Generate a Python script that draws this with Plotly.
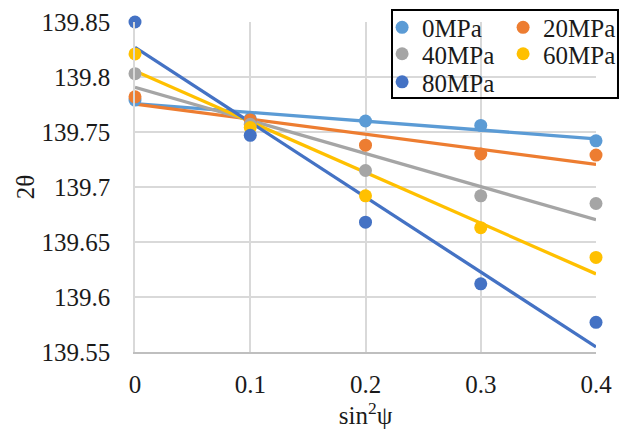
import numpy as np
import plotly.graph_objects as go

x_vals = [0, 0.1, 0.2, 0.3, 0.4]
series_names = ["0MPa", "20MPa", "40MPa", "60MPa", "80MPa"]
y_0 = [139.779, 139.762, 139.760, 139.756, 139.742]
y_20 = [139.782, 139.761, 139.738, 139.730, 139.729]
y_40 = [139.803, 139.757, 139.715, 139.692, 139.685]
y_60 = [139.821, 139.754, 139.692, 139.663, 139.636]
y_80 = [139.850, 139.747, 139.668, 139.612, 139.577]
colors = ["#5B9BD5", "#ED7D31", "#A5A5A5", "#FFC000", "#4472C4"]
y_ticks = [139.55, 139.6, 139.65, 139.7, 139.75, 139.8, 139.85]
y_tick_text = ["139.55", "139.6", "139.65", "139.7", "139.75", "139.8", "139.85"]
x_ticks = [0, 0.1, 0.2, 0.3, 0.4]
x_tick_text = ["0", "0.1", "0.2", "0.3", "0.4"]

all_y = [y_0, y_20, y_40, y_60, y_80]
legend_of = ["legend", "legend", "legend2", "legend2", "legend3"]
FONT = "Liberation Serif"

fig = go.Figure()
xa = np.array(x_vals)
# trendlines (linear fit)
for ys, c in zip(all_y, colors):
    k, b = np.polyfit(xa, np.array(ys), 1)
    xs = [x_vals[0], x_vals[-1]]
    fig.add_trace(go.Scatter(x=xs, y=[k * v + b for v in xs], mode="lines",
                             line=dict(color=c, width=3.3), showlegend=False,
                             hoverinfo="skip"))
for name, ys, c, lg in zip(series_names, all_y, colors, legend_of):
    fig.add_trace(go.Scatter(x=x_vals, y=ys, mode="markers", name=name,
                             marker=dict(color=c, size=13), cliponaxis=False,
                             legend=lg))

def row_legend(yc):
    return dict(x=0.536, y=yc, xanchor="left", yanchor="middle",
                orientation="h", entrywidth=76,
                bgcolor="rgba(0,0,0,0)", font=dict(size=25),
                tracegroupgap=0, itemwidth=30)

fig.update_layout(
    width=626, height=430,
    margin=dict(l=135, r=30, t=22, b=78, autoexpand=False),
    paper_bgcolor="white", plot_bgcolor="white",
    font=dict(family=FONT, size=25, color="#1a1a1a"),
    legend=row_legend(0.983),
    legend2=row_legend(0.903),
    legend3=row_legend(0.818),
    shapes=[dict(type="rect", xref="paper", yref="paper",
                 x0=0.5575, x1=1.0477, y0=0.770, y1=1.036,
                 line=dict(color="#000000", width=2), fillcolor="rgba(0,0,0,0)",
                 layer="above")],
)
fig.update_xaxes(range=[0, 0.4], tickvals=x_ticks, ticktext=x_tick_text,
                 showgrid=True, gridcolor="#D9D9D9", gridwidth=1.5,
                 showline=True, linecolor="#BFBFBF", linewidth=1.5,
                 zeroline=False, ticks="", ticklabelstandoff=9,
                 title=dict(text="sin<sup>2</sup>ψ", font=dict(size=25), standoff=0))
fig.update_yaxes(range=[139.55, 139.85], tickvals=y_ticks, ticktext=y_tick_text,
                 showgrid=True, gridcolor="#D9D9D9", gridwidth=1.5,
                 showline=True, linecolor="#D9D9D9", linewidth=1.5,
                 zeroline=False, ticks="", ticklabelstandoff=18,
                 title=dict(text="2θ", font=dict(size=25), standoff=0))

fig.write_html("out.html")
